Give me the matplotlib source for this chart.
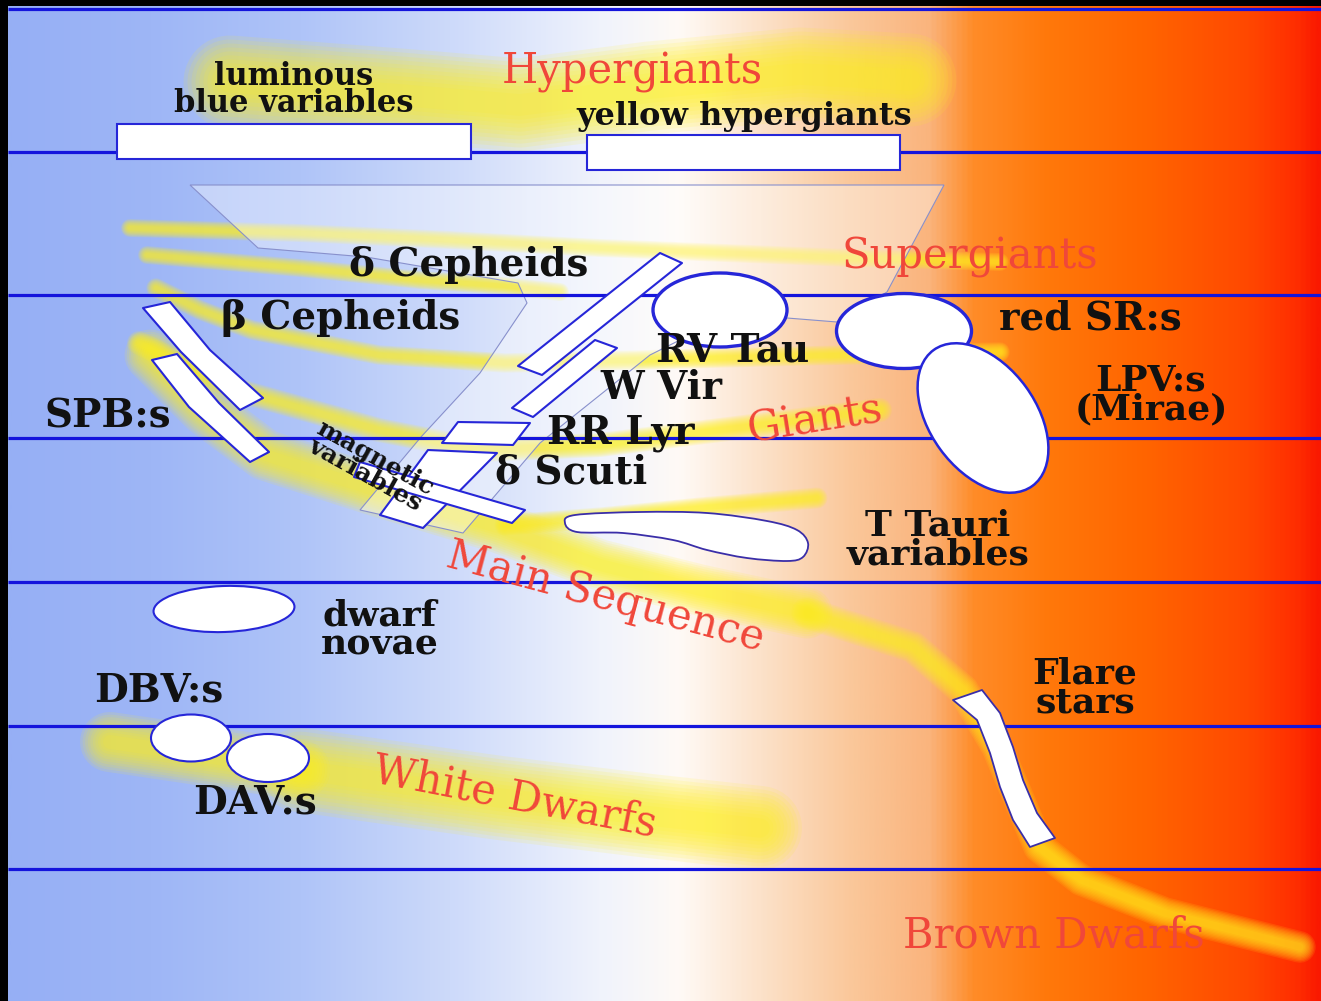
import numpy as np
import matplotlib
matplotlib.use("Agg")
import matplotlib.pyplot as plt
from matplotlib.patches import Polygon, Ellipse, Rectangle, PathPatch
from matplotlib.path import Path
from matplotlib.colors import LinearSegmentedColormap

W, H = 1321, 1001

# ---- diagram data (pixel-like HR coordinates: x = temperature axis, y = luminosity axis, down = fainter)
grad_x = [8, 150, 300, 450, 600, 680, 760, 850, 930, 975, 1050, 1150, 1250, 1300, 1321]
grad_rgb = [(150, 175, 245), (158, 182, 246), (175, 196, 248), (205, 218, 250),
            (240, 243, 252), (255, 250, 246), (252, 226, 202), (250, 200, 155),
            (250, 180, 125), (255, 140, 40), (255, 120, 10), (255, 100, 0),
            (255, 72, 0), (255, 45, 0), (250, 25, 0)]

class_y = [9, 152, 295, 438, 582, 726, 869]   # luminosity class boundaries

# yellow glow bands: (points, width px)
glow_hyper = ([(230, 82), (400, 95), (520, 105), (650, 88), (800, 74), (910, 80)], 62)
glow_sg_a = ([(130, 228), (300, 233), (450, 240), (600, 248), (700, 252), (850, 258), (1000, 262)], 12)
glow_sg_b = ([(147, 255), (300, 268), (420, 280), (505, 286), (560, 292)], 12)
glow_sg_c = ([(156, 288), (200, 310), (252, 330), (379, 355), (505, 363), (640, 360), (800, 356), (1000, 352)], 13)
glow_giant = ([(139, 343), (236, 390), (379, 430), (480, 450), (600, 445), (720, 430), (880, 410)], 16)
glow_ms_up = ([(150, 355), (205, 410), (265, 455), (380, 492), (500, 528), (600, 565), (700, 590), (807, 613)], 34)
glow_ms_low = ([(807, 613), (913, 647), (963, 690), (997, 747), (1039, 847), (1081, 880),
                (1165, 913), (1300, 947)], 21)
glow_turnoff = ([(505, 525), (600, 518), (700, 508), (817, 498)], 14)
glow_wd_a = ([(110, 742), (300, 770)], 40)
glow_wd_b = ([(300, 770), (500, 798), (650, 816), (760, 828)], 56)

# instability-strip funnel outline
funnel = [(190, 185), (944, 185), (887, 292), (837, 322), (787, 318), (700, 330), (650, 355),
          (540, 443), (463, 533), (360, 510), (421, 437), (480, 373), (527, 303), (518, 283),
          (366, 257), (258, 248)]

# boxes (x0, y0, x1, y1)
box_lbv = (117, 124, 471, 159)
box_yhg = (587, 135, 900, 170)

# strips / parallelograms
strip_bcep = [(143, 308), (170, 302), (210, 350), (263, 398), (240, 410), (181, 352)]
strip_spb = [(152, 360), (177, 354), (219, 403), (269, 452), (250, 462), (189, 407)]
strip_dcep = [(518, 366), (660, 253), (682, 263), (542, 375)]
strip_wvir = [(512, 408), (595, 340), (617, 348), (533, 417)]
box_rrlyr = [(442, 443), (458, 422), (530, 423), (513, 445)]
box_dscuti = [(428, 450), (497, 453), (423, 528), (380, 515)]
strip_magnetic = [(360, 462), (525, 510), (512, 523), (354, 477)]
blob_ttauri = [(565, 523), (575, 515), (640, 512), (707, 513), (767, 521), (797, 530), (808, 543),
               (803, 557), (787, 561), (747, 558), (707, 550), (673, 540), (623, 533), (577, 532)]
strip_flare = [(953, 700), (982, 690), (1000, 713), (1013, 747), (1023, 780), (1037, 813),
               (1055, 838), (1030, 847), (1013, 820), (1000, 787), (990, 753), (977, 720)]

# ellipses (cx, cy, w, h, angle, edge lw)
ell_rvtau = (720, 310, 134, 74, 0, 2.4)
ell_redsr = (904, 331, 135, 75, 0, 2.4)
ell_lpv = (983, 418, 168, 106, 54, 1.8)
ell_dwarfnova = (224, 609, 141, 46, -2, 1.5)
ell_dbv = (191, 738, 80, 47, 0, 1.5)
ell_dav = (268, 758, 82, 48, 0, 1.5)

# labels: text, x, y, size, colour key, weight, rotation, line spacing
labels = [
    ("luminous\nblue variables", 294, 90, 22, "k", "bold", 0, 0.8),
    ("Hypergiants", 632, 72, 30, "r", "normal", 0, 1),
    ("yellow hypergiants", 744, 117, 23, "k", "bold", 0, 1),
    ("δ Cepheids", 469, 265, 28, "k", "bold", 0, 1),
    ("Supergiants", 970, 257, 30, "r", "normal", 0, 1),
    ("β Cepheids", 341, 318, 28, "k", "bold", 0, 1),
    ("red SR:s", 1090, 318, 28, "k", "bold", 0, 1),
    ("RV Tau", 733, 350, 28, "k", "bold", 0, 1),
    ("W Vir", 661, 388, 28, "k", "bold", 0, 1),
    ("LPV:s\n(Mirae)", 1151, 395, 26, "k", "bold", 0, 0.8),
    ("SPB:s", 108, 417, 28, "k", "bold", 0, 1),
    ("RR Lyr", 621, 433, 28, "k", "bold", 0, 1),
    ("Giants", 815, 420, 30, "r", "normal", 9, 1),
    ("δ Scuti", 571, 472, 28, "k", "bold", 0, 1),
    ("magnetic\nvariables", 370, 466, 18, "k", "bold", -29, 0.72),
    ("T Tauri\nvariables", 938, 540, 26, "k", "bold", 0, 0.78),
    ("Main Sequence", 605, 597, 30, "r", "normal", -15, 1),
    ("dwarf\nnovae", 380, 630, 26, "k", "bold", 0, 0.8),
    ("DBV:s", 159, 690, 28, "k", "bold", 0, 1),
    ("Flare\nstars", 1085, 688, 26, "k", "bold", 0, 0.78),
    ("White Dwarfs", 515, 797, 30, "r", "normal", -11, 1),
    ("DAV:s", 255, 802, 28, "k", "bold", 0, 1),
    ("Brown Dwarfs", 1054, 936, 30, "r", "normal", 0, 1),
]

LINE_BLUE = "#1414dc"
EDGE_BLUE = "#2626d8"
YELLOW = "#fff020"
TEXT_COL = {"k": "#111111", "r": "#f0473a"}
PX = 0.72  # px -> pt at 100 dpi

fig = plt.figure(figsize=(W / 100, H / 100), dpi=100, facecolor="black")
ax = fig.add_axes([0, 0, 1, 1])
ax.set_xlim(0, W)
ax.set_ylim(H, 0)
ax.axis("off")

# background temperature gradient
stops = [(x - grad_x[0]) / (grad_x[-1] - grad_x[0]) for x in grad_x]
cmap = LinearSegmentedColormap.from_list("hr", list(zip(stops, [tuple(c / 255 for c in rgb) for rgb in grad_rgb])))
ax.imshow(np.linspace(0, 1, 512)[None, :], cmap=cmap, aspect="auto",
          extent=(grad_x[0], grad_x[-1], H, 6), zorder=0, interpolation="bilinear")


def glow(band):
    pts, w = band
    xs, ys = zip(*pts)
    for f in np.linspace(1.5, 0.35, 10):
        ax.plot(xs, ys, color=YELLOW, lw=w * f * PX, alpha=0.12, solid_capstyle="round",
                solid_joinstyle="round", zorder=1)


for band in [glow_hyper, glow_sg_a, glow_sg_b, glow_sg_c, glow_giant, glow_ms_up,
             glow_ms_low, glow_turnoff, glow_wd_a, glow_wd_b]:
    glow(band)

ax.add_patch(Polygon(funnel, closed=True, facecolor=(1, 1, 1, 0.38), edgecolor="#8890cc",
                     lw=0.8, zorder=2))

for y in class_y:
    ax.plot([8, W], [y, y], color=LINE_BLUE, lw=2.3, zorder=3, solid_capstyle="butt")


def white_poly(pts, lw=1.5, ec=EDGE_BLUE):
    ax.add_patch(Polygon(pts, closed=True, facecolor="white", edgecolor=ec, lw=lw,
                         joinstyle="round", zorder=4))


def smooth_blob(pts, lw=1.3, ec="#3a2ea8"):
    p = np.array(pts, float)
    n = len(p)
    verts = [p[0]]
    codes = [Path.MOVETO]
    for i in range(n):
        p0, p1, p2, p3 = p[i - 1], p[i], p[(i + 1) % n], p[(i + 2) % n]
        verts += [p1 + (p2 - p0) / 6, p2 - (p3 - p1) / 6, p2]
        codes += [Path.CURVE4] * 3
    ax.add_patch(PathPatch(Path(verts, codes), facecolor="white", edgecolor=ec, lw=lw, zorder=4))


for (x0, y0, x1, y1) in [box_lbv, box_yhg]:
    ax.add_patch(Rectangle((x0, y0), x1 - x0, y1 - y0, facecolor="white", edgecolor=EDGE_BLUE,
                           lw=1.5, zorder=4))

for s in [strip_bcep, strip_spb, strip_dcep, strip_wvir, box_rrlyr, box_dscuti, strip_magnetic]:
    white_poly(s)
white_poly(strip_flare, lw=1.3, ec="#3a2ea8")
smooth_blob(blob_ttauri)

for (cx, cy, w, h, ang, lw) in [ell_rvtau, ell_redsr, ell_lpv, ell_dwarfnova, ell_dbv, ell_dav]:
    ax.add_patch(Ellipse((cx, cy), w, h, angle=ang, facecolor="white", edgecolor=EDGE_BLUE,
                         lw=lw, zorder=4))

for (txt, x, y, size, col, weight, rot, ls) in labels:
    ax.text(x, y, txt, fontsize=size, color=TEXT_COL[col], fontweight=weight,
            family="DejaVu Serif", ha="center", va="center", multialignment="center",
            rotation=rot, rotation_mode="anchor", linespacing=ls, zorder=6)

fig.savefig("out.png", dpi=100, facecolor="black")
